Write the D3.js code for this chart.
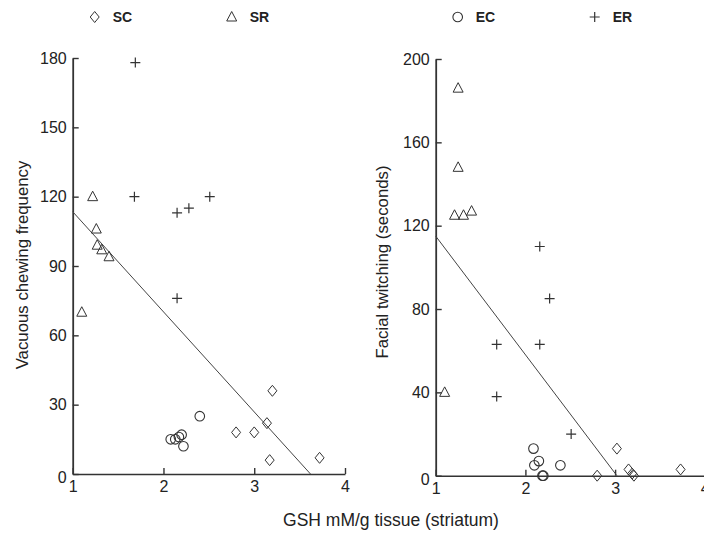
<!DOCTYPE html>
<html>
<head>
<meta charset="utf-8">
<script src="https://cdn.jsdelivr.net/npm/d3@7"></script>
<style>
  body { margin: 0; background: #fff; }
  svg text { font-family: "Liberation Sans", Arial, sans-serif; fill: #222; }
</style>
</head>
<body>
<div id="chart"></div>
<script>
// GSH (mM/g tissue) vs. behaviour, four groups per panel
// values, [gsh, score]
var chewSC = [[2.80, 18], [3.00, 18], [3.14, 22], [3.20, 36], [3.17, 6], [3.72, 7]];
var chewSR = [[1.22, 120], [1.26, 106], [1.27, 99], [1.32, 97], [1.40, 94], [1.10, 70]];
var chewEC = [[2.08, 15], [2.13, 15], [2.17, 16], [2.20, 17], [2.22, 12], [2.40, 25]];
var chewER = [[1.69, 178], [1.68, 120], [2.15, 113], [2.28, 115], [2.51, 120], [2.15, 76]];
var chewFit = [[1, 113.5], [3.62, 0]];

var twitchSC = [[2.80, 0], [3.02, 13], [3.15, 3], [3.19, 1], [3.21, 0], [3.73, 3]];
var twitchSR = [[1.25, 186], [1.25, 148], [1.21, 125], [1.31, 125], [1.40, 127], [1.10, 40]];
var twitchEC = [[2.09, 13], [2.10, 5], [2.15, 7], [2.19, 0], [2.20, 0], [2.39, 5]];
var twitchER = [[2.16, 110], [2.27, 85], [1.68, 63], [2.16, 63], [1.68, 38], [2.51, 20]];
var twitchFit = [[1, 115], [3.02, 0]];

var xTicks = [1, 2, 3, 4];
var chewTicks = [0, 30, 60, 90, 120, 150, 180];
var twitchTicks = [0, 40, 80, 120, 160, 200];

var width = 704, height = 533;
var ink = "#333";

var svg = d3.select("#chart")
  .append("svg")
  .attr("width", width)
  .attr("height", height);

// one symbol drawer per group
function drawSymbol(g, type, cx, cy) {
  if (type === "SC") {
    g.append("path")
      .attr("d", "M" + cx + "," + (cy - 5.5) + "L" + (cx + 4.5) + "," + cy + "L" + cx + "," + (cy + 5.5) + "L" + (cx - 4.5) + "," + cy + "Z")
      .attr("fill", "none").attr("stroke", ink).attr("stroke-width", 1)
  } else if (type === "SR") {
    g.append("path")
      .attr("d", "M" + cx + "," + (cy - 5.5) + "L" + (cx + 5) + "," + (cy + 4) + "L" + (cx - 5) + "," + (cy + 4) + "Z")
      .attr("fill", "none").attr("stroke", ink).attr("stroke-width", 1)
  } else if (type === "EC") {
    g.append("circle")
      .attr("cx", cx).attr("cy", cy).attr("r", 4.8)
      .attr("fill", "none").attr("stroke", ink).attr("stroke-width", 1.1)
  } else {
    g.append("path")
      .attr("d", "M" + (cx - 5) + "," + cy + "H" + (cx + 5) + "M" + cx + "," + (cy - 5) + "V" + (cy + 5))
      .attr("fill", "none").attr("stroke", ink).attr("stroke-width", 1.2)
  }
}

function panel(opts) {
  var x = d3.scaleLinear().domain([1, 4]).range([opts.left, opts.left + opts.xSpan])
  var y = d3.scaleLinear().domain([0, opts.yMax]).range([opts.bottom, opts.top])

  var g = svg.append("g")

  // x axis, ticks pointing up into the plot
  var xAxis = g.append("g")
    .attr("transform", "translate(0," + opts.bottom + ")")
    .call(d3.axisBottom(x).tickValues(xTicks).tickFormat(d3.format("d"))
      .tickSizeInner(-6).tickSizeOuter(0).tickPadding(7))
  xAxis.select(".domain").attr("stroke", ink).attr("stroke-width", 1.6)
  xAxis.selectAll(".tick line").attr("stroke", ink).attr("stroke-width", 1.4)
  xAxis.selectAll("text").attr("font-size", 16).attr("fill", "#1a1a1a")

  // y axis, ticks pointing right
  var yAxis = g.append("g")
    .attr("transform", "translate(" + opts.left + ",0)")
    .call(d3.axisLeft(y).tickValues(opts.yTicks)
      .tickSizeInner(-6).tickSizeOuter(0).tickPadding(6))
  yAxis.select(".domain").attr("stroke", ink).attr("stroke-width", 1.8)
  yAxis.selectAll(".tick line").attr("stroke", ink).attr("stroke-width", 1.4)
  yAxis.selectAll("text").attr("font-size", 16).attr("fill", "#1a1a1a")
  // the zero label sits a bit low in the original
  yAxis.selectAll(".tick").filter(function(d) { return d === 0 })
    .select("text").attr("dy", "0.55em")

  g.append("text")
    .attr("transform", "translate(" + opts.titleX + "," + opts.titleY + ") rotate(-90)")
    .attr("dy", "0.35em")
    .attr("text-anchor", "middle")
    .attr("font-size", 16.8)
    .text(opts.yTitle)

  // fitted line
  g.append("path")
    .datum(opts.fit)
    .attr("d", d3.line().x(function(d) { return x(d[0]) }).y(function(d) { return y(d[1]) }))
    .attr("fill", "none")
    .attr("stroke", "#444")
    .attr("stroke-width", 1)

  var groups = [["SC", opts.sc], ["SR", opts.sr], ["EC", opts.ec], ["ER", opts.er]]
  groups.forEach(function(grp) {
    grp[1].forEach(function(d) {
      drawSymbol(g, grp[0], x(d[0]), y(d[1]))
    })
  })

  // legend row above the panel
  opts.legend.forEach(function(item, i) {
    var lx = opts.left + 22 + i * 137
    drawSymbol(g, item, lx, 17)
    g.append("text")
      .attr("x", lx + 18)
      .attr("y", 22)
      .attr("font-size", 14)
      .attr("font-weight", "bold")
      .text(item)
  })
}

panel({
  left: 72.7, xSpan: 272.3, top: 58, bottom: 474, yMax: 180,
  yTicks: chewTicks, yTitle: "Vacuous chewing frequency", titleX: 22, titleY: 265,
  sc: chewSC, sr: chewSR, ec: chewEC, er: chewER, fit: chewFit,
  legend: ["SC", "SR"]
})

panel({
  left: 435.7, xSpan: 269.1, top: 59, bottom: 475.7, yMax: 200,
  yTicks: twitchTicks, yTitle: "Facial twitching (seconds)", titleX: 382, titleY: 262,
  sc: twitchSC, sr: twitchSR, ec: twitchEC, er: twitchER, fit: twitchFit,
  legend: ["EC", "ER"]
})

svg.append("text")
  .attr("x", 391)
  .attr("y", 526)
  .attr("text-anchor", "middle")
  .attr("font-size", 17.5)
  .text("GSH mM/g tissue (striatum)")
</script>
</body>
</html>
